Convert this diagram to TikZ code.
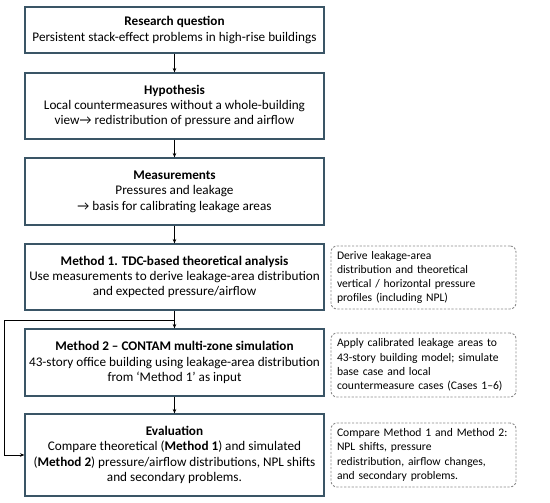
\documentclass[tikz,border=0pt]{standalone}
\usepackage{fontspec}
\setmainfont{Carlito}
\usetikzlibrary{arrows.meta,calc}
\definecolor{boxline}{HTML}{3A5566}
\definecolor{dashline}{HTML}{8C8C8C}
\begin{document}
\begin{tikzpicture}[x=1pt,y=-1pt,
  mainbox/.style={draw=boxline,line width=1.1pt,minimum width=299pt,align=center,inner sep=0pt,
    font=\fontsize{13.2}{15.4}\selectfont},
  notebox/.style={draw=dashline,line width=0.9pt,dash pattern=on 2.2pt off 1.6pt,rounded corners=6pt,
    text width=173pt,inner xsep=6pt,inner ysep=0pt,align=left,font=\fontsize{11.6}{14.2}\selectfont},
  arr/.style={draw=black,line width=0.8pt,-{Stealth[length=4.5pt,width=3.6pt]}}]
\useasboundingbox (0,0) rectangle (550,503);
\fill[white] (0,0) rectangle (550,503);
\node[mainbox,minimum height=46pt] (b1) at (174.5,30) {\textbf{Research question}\\Persistent stack-effect problems in high-rise buildings};
\node[mainbox,minimum height=66pt] (b2) at (174.5,106) {\textbf{Hypothesis}\\Local countermeasures without a whole-building\\view→ redistribution of pressure and airflow};
\node[mainbox,minimum height=67pt] (b3) at (174.5,191.5) {\textbf{Measurements}\\Pressures and leakage\\→ basis for calibrating leakage areas};
\node[mainbox,minimum height=66pt] (b4) at (174.5,277) {\textbf{Method 1. TDC-based theoretical analysis}\\Use measurements to derive leakage-area distribution\\and expected pressure/airflow};
\node[mainbox,minimum height=67pt] (b5) at (174.5,362.5) {\textbf{Method 2 – CONTAM multi-zone simulation}\\43-story office building using leakage-area distribution\\from ‘Method 1’ as input};
\node[mainbox,minimum height=82pt] (b6) at (174.5,455) {\textbf{Evaluation}\\Compare theoretical (\textbf{Method 1}) and simulated\\(\textbf{Method 2}) pressure/airflow distributions, NPL shifts\\and secondary problems.};
\node[notebox,minimum height=63pt] (d1) at (423.5,277.5) {Derive leakage-area\\distribution and theoretical\\vertical / horizontal pressure\\profiles (including NPL)};
\node[notebox,minimum height=64pt] (d2) at (423.5,365) {Apply calibrated leakage areas to\\43-story building model; simulate\\base case and local\\countermeasure cases (Cases 1–6)};
\node[notebox,minimum height=64pt] (d3) at (423.5,455) {Compare Method 1 and Method 2:\\NPL shifts, pressure\\redistribution, airflow changes,\\and secondary problems.};
\draw[arr] (b1) -- (b2);
\draw[arr] (b2) -- (b3);
\draw[arr] (b3) -- (b4);
\draw[arr] (b4) -- (b5);
\draw[arr] (b5) -- (b6);
\coordinate (j) at (174.5,320.5);
\coordinate (fl) at (4.5,320.5);
\draw[arr] (j) -- (fl) |- (b6.west);
\end{tikzpicture}
\end{document}
